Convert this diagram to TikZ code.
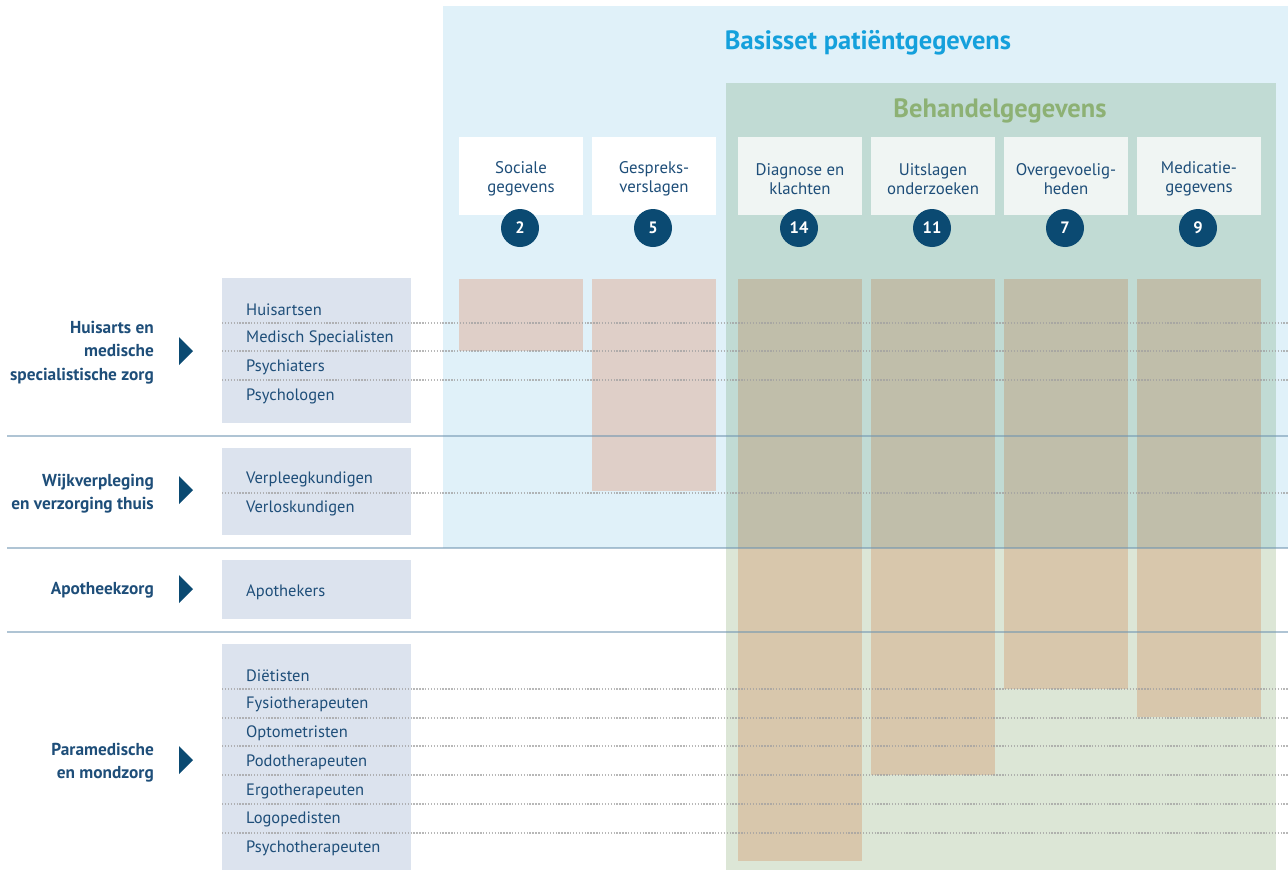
\documentclass[tikz,border=0pt]{standalone}
\usepackage{fontspec}
\setmainfont{PT Sans}
\usetikzlibrary{positioning}
\definecolor{navy}{RGB}{11,74,114}
\definecolor{textblue}{RGB}{30,78,121}
\definecolor{basisblue}{RGB}{224,241,249}
\definecolor{titlecyan}{RGB}{20,160,220}
\definecolor{behgreen}{RGB}{193,219,212}
\definecolor{behgreenlow}{RGB}{220,230,214}
\definecolor{titlegreen}{RGB}{141,177,116}
\definecolor{headpale}{RGB}{240,245,243}
\definecolor{barpink}{RGB}{223,207,200}
\definecolor{bardark}{RGB}{192,190,170}
\definecolor{barlight}{RGB}{216,199,172}
\definecolor{rolefill}{RGB}{220,227,238}
\definecolor{sepcolor}{RGB}{110,148,176}
\definecolor{dotcolor}{RGB}{160,160,160}
\tikzset{
  bigtitle/.style={font=\fontsize{26.5}{30}\selectfont\bfseries},
  headbox/.style={fill=white, minimum width=124pt, minimum height=78pt, inner sep=0pt},
  headtext/.style={align=center, text=textblue, inner sep=0pt, font=\fontsize{16.8}{19}\selectfont},
  countdot/.style={circle, fill=navy, minimum size=38pt, inner sep=0pt, text=white,
    font=\fontsize{16.5}{18}\selectfont\bfseries},
  rolename/.style={anchor=west, text=textblue, font=\fontsize{16.5}{18}\selectfont, inner sep=0pt},
  grouplabel/.style={anchor=east, align=right, text=textblue,
    font=\fontsize{17.3}{23.5}\selectfont\bfseries, inner sep=0pt},
  sepline/.style={draw=sepcolor, line width=2pt, opacity=0.55},
  rowline/.style={draw=dotcolor, line width=1.4pt, dash pattern=on 1.4pt off 1.5pt, opacity=0.75},
  pointer/.style={fill=navy},
}

\begin{document}
\begin{tikzpicture}[x=1pt,y=-1pt]
\useasboundingbox (0,0) rectangle (1288,870);

% basisset area
\fill[basisblue] (443,6) rectangle (1288,548);
\node[bigtitle, text=titlecyan] (basis) at (868,43) {Basisset patiëntgegevens};

% behandelgegevens area
\fill[behgreen] (726,83) rectangle (1276,548);
\fill[behgreenlow] (726,548) rectangle (1276,870);
\node[bigtitle, text=titlegreen] (behandel) at (1000,111) {Behandelgegevens};

% column heads
\node[headbox] (sociaal) at (521,176) {};
\node[headbox] (gesprek) at (654,176) {};
\node[headbox, fill=headpale] (diagnose) at (800,176) {};
\node[headbox, fill=headpale] (uitslag) at (933,176) {};
\node[headbox, fill=headpale] (allergie) at (1066,176) {};
\node[headbox, fill=headpale] (medicatie) at (1199,176) {};
\node[headtext] (t-sociaal) at (521,179) {Sociale\\gegevens};
\node[headtext] (t-gesprek) at (654,179) {Gespreks-\\verslagen};
\node[headtext] (t-diagnose) at (800,179) {Diagnose en\\klachten};
\node[headtext] (t-uitslag) at (933,179) {Uitslagen\\onderzoeken};
\node[headtext] (t-allergie) at (1066,179) {Overgevoelig-\\heden};
\node[headtext] (t-medicatie) at (1199,179) {Medicatie-\\gegevens};

\node[countdot] (n-sociaal) at (520,228) {2};
\node[countdot] (n-gesprek) at (653,228) {5};
\node[countdot] (n-diagnose) at (799,228) {14};
\node[countdot] (n-uitslag) at (932,228) {11};
\node[countdot] (n-allergie) at (1065,228) {7};
\node[countdot] (n-medicatie) at (1198,228) {9};

% bars
\fill[barpink] (459,279) rectangle (583,351);
\fill[barpink] (592,279) rectangle (716,491);
\fill[bardark] (738,279) rectangle (862,548);
\fill[barlight] (738,548) rectangle (862,861);
\fill[bardark] (871,279) rectangle (995,548);
\fill[barlight] (871,548) rectangle (995,775);
\fill[bardark] (1004,279) rectangle (1128,548);
\fill[barlight] (1004,548) rectangle (1128,689);
\fill[bardark] (1137,279) rectangle (1261,548);
\fill[barlight] (1137,548) rectangle (1261,717);

% role boxes
\fill[rolefill] (222,278) rectangle (411,423);
\fill[rolefill] (222,448) rectangle (411,535);
\fill[rolefill] (222,560) rectangle (411,619);
\fill[rolefill] (222,644) rectangle (411,870);

% row lines
\draw[rowline] (222,323) -- (1288,323);
\draw[rowline] (222,351) -- (1288,351);
\draw[rowline] (222,380) -- (1288,380);
\draw[rowline] (222,493) -- (1288,493);
\draw[rowline] (222,689) -- (1288,689);
\draw[rowline] (222,718) -- (1288,718);
\draw[rowline] (222,746) -- (1288,746);
\draw[rowline] (222,775) -- (1288,775);
\draw[rowline] (222,804) -- (1288,804);
\draw[rowline] (222,833) -- (1288,833);

% group separators
\draw[sepline] (7,436) -- (1288,436);
\draw[sepline] (7,548) -- (1288,548);
\draw[sepline] (7,632) -- (1288,632);

% roles
\node[rolename] (huisartsen) at (246,309.5) {Huisartsen};
\node[rolename] (specialisten) at (246,338.5) {Medisch Specialisten};
\node[rolename] (psychiaters) at (246,367.5) {Psychiaters};
\node[rolename] (psychologen) at (246,396.5) {Psychologen};
\node[rolename] (verpleeg) at (246,479.5) {Verpleegkundigen};
\node[rolename] (verlos) at (246,508.5) {Verloskundigen};
\node[rolename] (apothekers) at (246,592.5) {Apothekers};
\node[rolename] (dietisten) at (246,675.5) {Diëtisten};
\node[rolename] (fysio) at (246,704.5) {Fysiotherapeuten};
\node[rolename] (opto) at (246,733.5) {Optometristen};
\node[rolename] (podo) at (246,762.5) {Podotherapeuten};
\node[rolename] (ergo) at (246,791.5) {Ergotherapeuten};
\node[rolename] (logo) at (246,819.5) {Logopedisten};
\node[rolename] (psychoth) at (246,848.5) {Psychotherapeuten};

% groups
\node[grouplabel] (g-huisarts) at (154,352.5) {Huisarts en\\medische\\specialistische zorg};
\node[grouplabel] (g-wijk) at (154,493.5) {Wijkverpleging\\en verzorging thuis};
\node[grouplabel] (g-apotheek) at (154,590.5) {Apotheekzorg};
\node[grouplabel] (g-para) at (154,762.5) {Paramedische\\en mondzorg};

\fill[pointer] (179,337) -- (193,351) -- (179,365) -- cycle;
\fill[pointer] (179,476) -- (193,490) -- (179,504) -- cycle;
\fill[pointer] (179,575) -- (193,589) -- (179,603) -- cycle;
\fill[pointer] (179,746) -- (193,760) -- (179,774) -- cycle;
\end{tikzpicture}
\end{document}
